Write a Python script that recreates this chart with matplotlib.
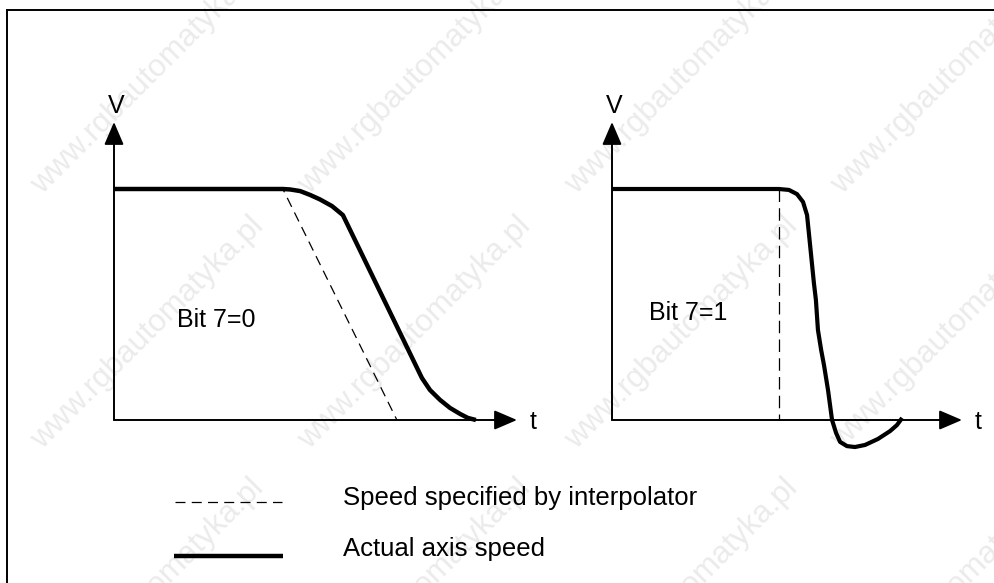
import matplotlib.pyplot as plt

plt.rcParams['font.family'] = ['Liberation Sans', 'DejaVu Sans']

W, H = 995, 583          # canvas size in pixels
PX = 40.3                # pixels per time unit
VPX = 231.0              # pixels per speed unit

# --- data: time t, speed v (v = 1 is the constant feed speed) ---
# Bit 7 = 0: interpolator ramp and the lagging actual speed
t0_cmd = [0.0, 4.19, 7.02]
v0_cmd = [1.0, 1.0, 0.0]
t0_act = [0.0, 4.19, 4.37, 4.62, 4.87, 5.11, 5.41, 5.68, 7.64, 7.84, 8.09,
          8.34, 8.59, 8.78, 8.98]
v0_act = [1.0, 1.0, 0.998, 0.991, 0.974, 0.955, 0.926, 0.887, 0.182, 0.130,
          0.087, 0.052, 0.026, 0.009, 0.0]

# Bit 7 = 1: step-like setpoint, actual speed overshoots below zero
t1_cmd = [4.14, 4.14]
v1_cmd = [1.0, 0.0]
t1_act = [0.0, 4.14, 4.39, 4.59, 4.74, 4.84, 4.89, 5.01, 5.06, 5.11, 5.19,
          5.26, 5.36, 5.46, 5.56, 5.66, 5.83, 6.03, 6.28, 6.60, 6.90, 7.07,
          7.20]
v1_act = [1.0, 1.0, 0.996, 0.978, 0.944, 0.887, 0.801, 0.593, 0.519, 0.390,
          0.303, 0.238, 0.130, 0.0, -0.056, -0.095, -0.113, -0.117, -0.108,
          -0.082, -0.048, -0.022, 0.009]

panel_labels = ['Bit 7=0', 'Bit 7=1']
legend_labels = ['Speed specified by interpolator', 'Actual axis speed']

fig = plt.figure(figsize=(W / 100, H / 100), dpi=100)

# outer frame (left and top edges)
fig.add_artist(plt.Line2D([7 / W, 7 / W], [0, 1 - 10 / H], color='black', lw=1.4))
fig.add_artist(plt.Line2D([7 / W, 1], [1 - 10 / H, 1 - 10 / H], color='black', lw=1.4))

# faint diagonal watermark grid, kept behind everything else
for wx in [42, 309, 576, 842]:
    for wy in [195, 450, 712]:
        fig.text(wx / W, 1 - wy / H, 'www.rgbautomatyka.pl', rotation=45,
                 rotation_mode='anchor', ha='left', va='baseline',
                 fontsize=22.5, color='#ebebeb', zorder=-5)

YLO, YHI = -0.15, 1.29


def make_panel(x0, x1):
    # axes placed so that the origin sits at pixel (x0, 420)
    top = 420 - YHI * VPX
    bot = 420 - YLO * VPX
    ax = fig.add_axes([x0 / W, 1 - bot / H, (x1 - x0) / W, (bot - top) / H])
    ax.set_xlim(0, (x1 - x0) / PX)
    ax.set_ylim(YLO, YHI)
    ax.axis('off')
    ax.patch.set_alpha(0)
    tmax = (x1 - x0) / PX
    arrow = dict(arrowstyle='-|>,head_length=0.7,head_width=0.3',
                 mutation_scale=20, color='black', lw=1.4,
                 shrinkA=0, shrinkB=0)
    ax.annotate('', xy=(tmax, 0), xytext=(0, 0), arrowprops=arrow,
                annotation_clip=False)
    ax.annotate('', xy=(0, YHI), xytext=(0, 0), arrowprops=arrow,
                annotation_clip=False)
    ax.text(0.06, 1.36, 'V', ha='center', va='center', fontsize=18)
    ax.text(tmax + 0.32, -0.01, 't', ha='left', va='center', fontsize=18)
    return ax


axL = make_panel(114, 517)
axR = make_panel(612, 962)

axL.plot(t0_cmd, v0_cmd, color='black', lw=0.9, ls=(0, (8, 5)), clip_on=False)
axL.plot(t0_act, v0_act, color='black', lw=3.2, solid_capstyle='butt',
         solid_joinstyle='round', clip_on=False)
axL.text(1.56, 0.433, panel_labels[0], ha='left', va='center', fontsize=18)

axR.plot(t1_cmd, v1_cmd, color='black', lw=0.9, ls=(0, (10, 5)), clip_on=False)
axR.plot(t1_act, v1_act, color='black', lw=3.0, solid_capstyle='butt',
         solid_joinstyle='round', clip_on=False)
axR.text(0.92, 0.463, panel_labels[1], ha='left', va='center', fontsize=18)

# hand-placed legend under the left panel
axL.plot([1.51, 4.17], [-0.355, -0.355], color='black', lw=0.9,
         ls=(0, (8, 5)), clip_on=False)
axL.plot([1.49, 4.19], [-0.589, -0.589], color='black', lw=3.2,
         solid_capstyle='butt', clip_on=False)
axL.text(5.68, -0.338, legend_labels[0], ha='left', va='center', fontsize=18.5)
axL.text(5.68, -0.558, legend_labels[1], ha='left', va='center', fontsize=18.5)

fig.savefig('out.png', dpi=100)
